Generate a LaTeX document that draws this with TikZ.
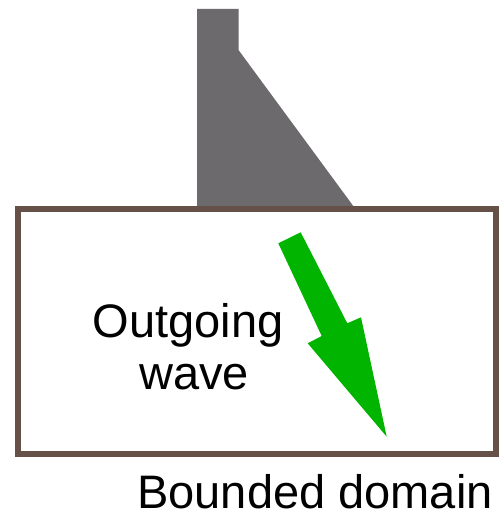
\documentclass[tikz,border=0pt]{standalone}
\usepackage{fontspec}
\setmainfont{Liberation Sans}
\definecolor{damgray}{RGB}{108,106,108}
\definecolor{framebrown}{RGB}{101,81,72}
\definecolor{wavegreen}{RGB}{0,180,0}
\begin{document}
\begin{tikzpicture}[x=1pt,y=1pt,
  lbl/.style={font=\fontsize{47}{52}\selectfont, inner sep=0pt, anchor=base}]
\useasboundingbox (0,0) rectangle (500,517);
% dam body
\fill[damgray] (197,508) -- (238.5,508) -- (238.5,467) -- (354,310) -- (197,310) -- cycle;
% bounded domain frame
\draw[framebrown, line width=6pt] (18,308) rectangle (495.5,62.5);
% outgoing wave arrow
\fill[wavegreen] (278.3,273.7) -- (300.7,284.7) -- (347.3,193.7) -- (361,199.7)
  -- (386.7,80.3) -- (307.7,173.7) -- (321.7,181) -- cycle;
% labels
\node[lbl] (out) at (188,179) {Outgoing};
\node[lbl] (wave) at (194,127) {wave};
\node[lbl] (dom) at (315,9) {Bounded domain};
\end{tikzpicture}
\end{document}
